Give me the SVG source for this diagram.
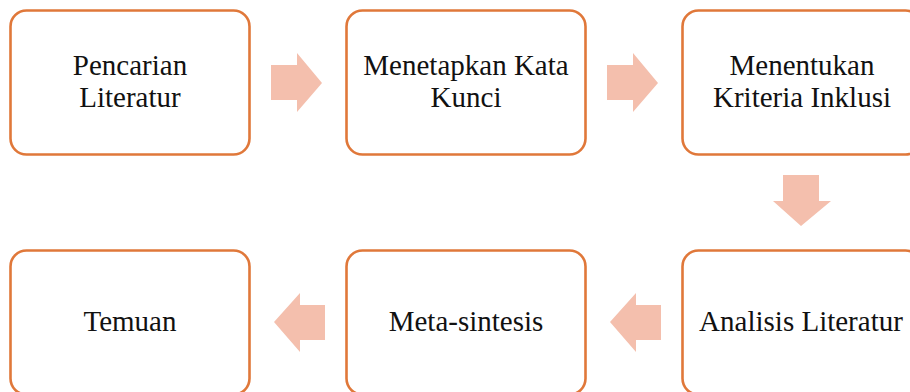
<svg xmlns="http://www.w3.org/2000/svg" width="910" height="392" viewBox="0 0 910 392">
<style>
.box{fill:#ffffff;stroke:#E0783A;stroke-width:2.6}
.arr{fill:#F4BFAD}
text{font-family:"Liberation Serif","Times New Roman",serif;font-size:29px;fill:#111;text-anchor:middle}
</style>
<rect width="910" height="392" fill="#ffffff"/>
<g id="n1"><rect class="box" x="10.5" y="10.5" width="239" height="144" rx="16"/><text x="130" y="75">Pencarian</text><text x="130" y="107">Literatur</text></g>
<g id="n2"><rect class="box" x="346.5" y="10.5" width="239" height="144" rx="16"/><text x="466" y="75">Menetapkan Kata</text><text x="466" y="107">Kunci</text></g>
<g id="n3"><rect class="box" x="682.5" y="10.5" width="239" height="144" rx="16"/><text x="802" y="75">Menentukan</text><text x="802" y="107">Kriteria Inklusi</text></g>
<g id="n4"><rect class="box" x="682.5" y="250.5" width="239" height="144" rx="16"/><text x="801" y="331">Analisis Literatur</text></g>
<g id="n5"><rect class="box" x="346.5" y="250.5" width="239" height="144" rx="16"/><text x="466" y="331">Meta-sintesis</text></g>
<g id="n6"><rect class="box" x="10.5" y="250.5" width="239" height="144" rx="16"/><text x="130" y="331">Temuan</text></g>
<g id="connectors">
<polygon class="arr" points="271,65 297,65 297,53 322,83 297,112 297,100 271,100"/>
<polygon class="arr" points="607,65 633,65 633,53 658,83 633,112 633,100 607,100"/>
<polygon class="arr" points="783,175 819,175 819,201 831,201 801,226 773,201 783,201"/>
<polygon class="arr" points="661,305 636,305 636,293 610,322 636,352 636,340 661,340"/>
<polygon class="arr" points="325,305 300,305 300,293 274,322 300,352 300,340 325,340"/>
</g>
</svg>
